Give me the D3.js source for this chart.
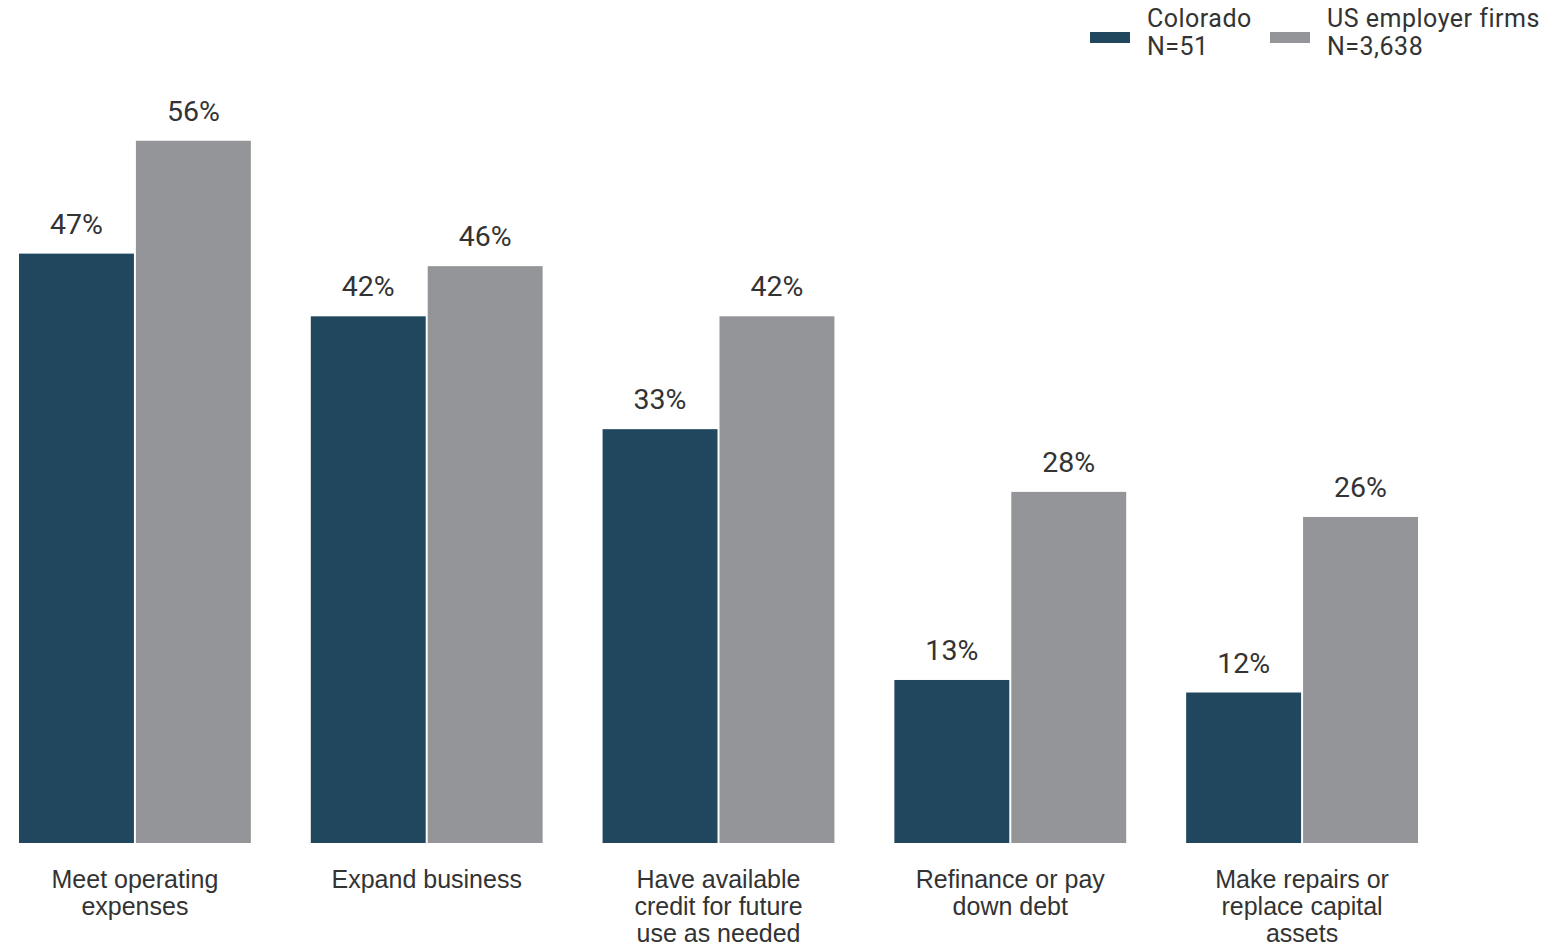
<!DOCTYPE html>
<html><head><meta charset="utf-8">
<script src="https://cdn.jsdelivr.net/npm/d3@7"></script>
<style>body{margin:0;background:#fff;}svg{display:block;}</style>
</head><body>
<svg id="chart" width="1553" height="947"></svg>
<script>
const categories = [
  ["Meet operating","expenses"],
  ["Expand business"],
  ["Have available","credit for future","use as needed"],
  ["Refinance or pay","down debt"],
  ["Make repairs or","replace capital","assets"]
];
const seriesNames = ["Colorado", "US employer firms"];
const seriesN = ["N=51", "N=3,638"];
const colorado = [47, 42, 33, 13, 12];
const usFirms = [56, 46, 42, 28, 26];
const colors = ["#20475d", "#939598"];

const svg = d3.select("#chart");
const catIdx = d3.range(categories.length);
const x0 = d3.scaleBand().domain(catIdx).range([19, 1418]).paddingInner(60/292).paddingOuter(0);
const x1 = d3.scaleBand().domain([0,1]).range([0, x0.bandwidth()]).paddingInner(0.017);
const y = d3.scaleLinear().domain([0, 60]).range([843, 843 - 60*12.54]);

const series = [colorado, usFirms];
const textColor = "#333333";

const g = svg.append("g");
catIdx.forEach(i => {
  const grp = g.append("g").attr("transform", `translate(${x0(i)},0)`);
  series.forEach((s, k) => {
    grp.append("rect")
      .attr("x", x1(k)).attr("width", x1.bandwidth())
      .attr("y", y(s[i])).attr("height", y(0) - y(s[i]))
      .attr("fill", colors[k]);
    grp.append("text")
      .attr("x", x1(k) + x1.bandwidth()/2)
      .attr("y", y(s[i]) - 20)
      .attr("text-anchor", "middle")
      .attr("font-family", "Roboto")
      .attr("font-size", 28.5)
      .attr("fill", textColor)
      .text(s[i] + "%");
  });
  const t = grp.append("text")
    .attr("text-anchor", "middle")
    .attr("font-family", "Liberation Sans, Arial")
    .attr("font-size", 25)
    .attr("fill", textColor);
  categories[i].forEach((line, j) => {
    t.append("tspan").attr("x", x0.bandwidth()/2).attr("y", 888 + j*27).text(line);
  });
});

// legend
const legX = [1090, 1270];
seriesNames.forEach((name, k) => {
  const lg = svg.append("g").attr("transform", `translate(${legX[k]},0)`);
  lg.append("rect").attr("x", 0).attr("y", 32).attr("width", 40).attr("height", 11).attr("fill", colors[k]);
  [name, seriesN[k]].forEach((line, j) => {
    lg.append("text")
      .attr("x", 57).attr("y", 27 + j*28)
      .attr("font-family", "Roboto").attr("font-size", 25)
      .attr("letter-spacing", 0.5)
      .attr("fill", textColor)
      .text(line);
  });
});
</script>
</body></html>
